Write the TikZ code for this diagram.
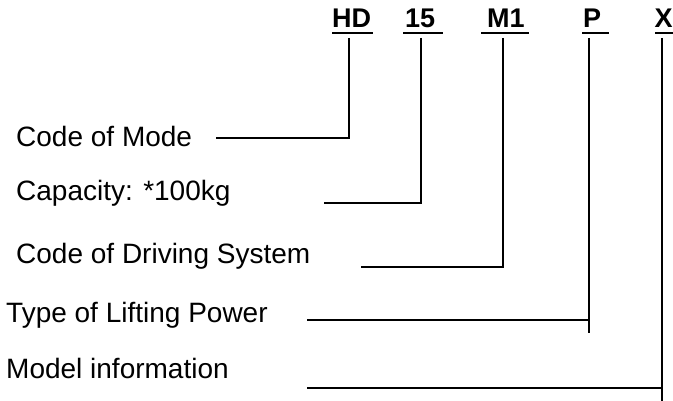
\documentclass[tikz,border=0pt]{standalone}
\usepackage{fontspec}
\setmainfont{Liberation Sans}
\begin{document}
\begin{tikzpicture}[x=1pt,y=-1pt,
  lbl/.style={anchor=base west,inner sep=0pt,font=\fontsize{28}{34}\selectfont},
  code/.style={anchor=base west,inner sep=0pt,font=\fontsize{27}{32}\selectfont\bfseries},
  uline/.style={line width=2.2pt},
  conn/.style={line width=1.4pt}]
\useasboundingbox (0,0) rectangle (673,401);
% code letters
\node[code] (hd) at (332,28) {HD};
\node[code] (n15) at (405,28) {15};
\node[code] (m1) at (487,28) {M1};
\node[code] (p) at (583,28) {P};
\node[code] (x) at (654.5,28) {X};
% underlines
\draw[uline] (332,33) -- (373,33);
\draw[uline] (403,33) -- (443,33);
\draw[uline] (481,33) -- (529,33);
\draw[uline] (582,33) -- (609,33);
\draw[uline] (655,33) -- (675,33);
% descriptions
\node[lbl] (mode) at (16,146.5) {Code of Mode};
\node[lbl] (cap) at (16,200.5) {Capacity: *100kg};
\node[lbl] (drive) at (16,264) {Code of Driving System};
\node[lbl] (lift) at (6,322.5) {Type of Lifting Power};
\node[lbl] (info) at (6,378) {Model information};
% connector points
\coordinate (hdT) at (349,38);  \coordinate (hdC) at (349,138); \coordinate (hdE) at (216,138);
\coordinate (cT) at (421,38);   \coordinate (cC) at (421,203);  \coordinate (cE) at (324,203);
\coordinate (mT) at (503,38);   \coordinate (mC) at (503,267);  \coordinate (mE) at (361,267);
\coordinate (pT) at (589,38);   \coordinate (pB) at (589,333);  \coordinate (pC) at (589,320); \coordinate (pE) at (307,320);
\coordinate (xT) at (662,38);   \coordinate (xB) at (662,401);  \coordinate (xC) at (662,388); \coordinate (xE) at (307,388);
\draw[conn] (hdT) -- (hdC) -- (hdE);
\draw[conn] (cT) -- (cC) -- (cE);
\draw[conn] (mT) -- (mC) -- (mE);
\draw[conn] (pT) -- (pB);
\draw[conn] (pC) -- (pE);
\draw[conn] (xT) -- (xB);
\draw[conn] (xC) -- (xE);
\end{tikzpicture}
\end{document}
